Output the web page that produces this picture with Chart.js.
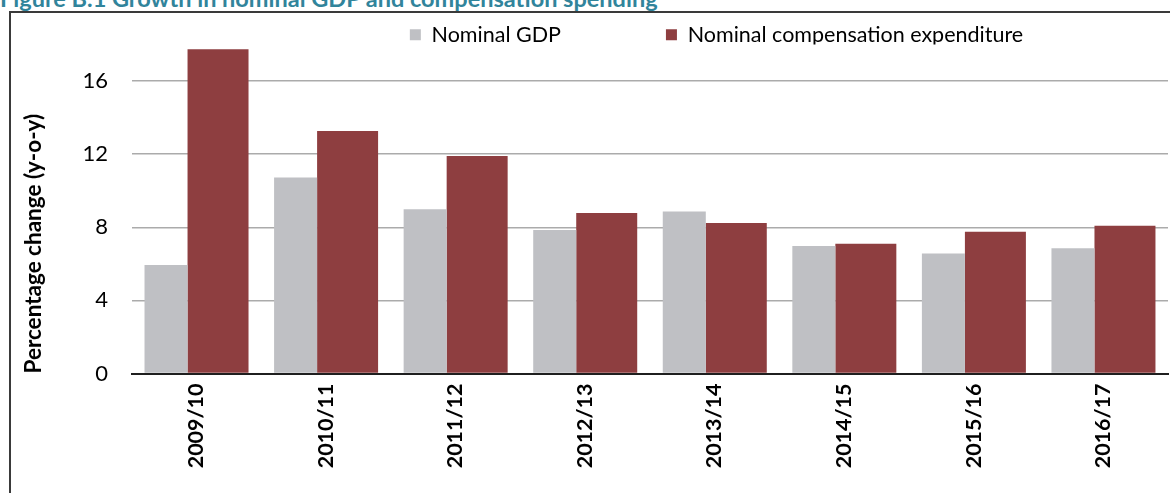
<!DOCTYPE html>
<html>
<head>
<meta charset="utf-8">
<script src="https://cdn.jsdelivr.net/npm/chart.js@4.4.1/dist/chart.umd.min.js"></script>
<style>
  html, body { margin: 0; padding: 0; background: #fff; width: 1170px; height: 493px; overflow: hidden; position: relative; }
  #title { position: absolute; left: 0px; top: -16px; font: bold 23.5px Lato, sans-serif; color: #31849B; white-space: nowrap; }
  #frame { position: absolute; left: 9px; top: 11px; width: 3000px; height: 3000px; border-left: 2px solid #3a3a3a; border-top: 2px solid #3a3a3a; }
  #c { position: absolute; left: 0px; top: -81px; }
</style>
</head>
<body>
<div id="title">Figure B.1 Growth in nominal GDP and compensation spending</div>
<div id="frame"></div>
<canvas id="c" width="1433" height="574"></canvas>
<script>
const categories = ['2009/10', '2010/11', '2011/12', '2012/13', '2013/14', '2014/15', '2015/16', '2016/17'];
const nominalGDP = [5.94, 10.72, 8.98, 7.85, 8.86, 6.98, 6.57, 6.85];
const nominalCompensation = [17.74, 13.27, 11.9, 8.78, 8.23, 7.1, 7.75, 8.09];
const yTickValues = [0, 4, 8, 12, 16];
const seriesNames = ['Nominal GDP', 'Nominal compensation expenditure'];
const yAxisTitle = 'Percentage change (y-o-y)';

const FONT = 'Lato';
new Chart(document.getElementById('c'), {
  type: 'bar',
  data: {
    labels: categories,
    datasets: [
      {
        label: seriesNames[0], data: nominalGDP,
        backgroundColor: '#BFC0C4', borderWidth: 0,
        categoryPercentage: 0.934, barPercentage: 0.711
      },
      {
        label: seriesNames[1], data: nominalCompensation,
        backgroundColor: '#8E3E40', borderWidth: 0,
        categoryPercentage: 0.6715, barPercentage: 1.402
      }
    ]
  },
  options: {
    responsive: false,
    animation: false,
    events: [],
    layout: { padding: 0 },
    plugins: {
      tooltip: { enabled: false },
      title: { display: false },
      legend: {
        display: true,
        position: 'top',
        align: 'center',
        maxHeight: 125.5,
        labels: {
          boxWidth: 11, boxHeight: 11, padding: 105,
          color: '#000',
          font: { family: FONT, size: 21.5 }
        }
      }
    },
    scales: {
      x: {
        offset: true,
        grid: { display: false, drawTicks: false },
        border: { display: true, color: '#1f1f1f', width: 2 },
        ticks: {
          minRotation: 90, maxRotation: 90, padding: 10, autoSkip: false,
          color: '#000', font: { family: FONT, size: 21.5, weight: 'bold' }
        },
        afterFit: (s) => { s.height = 119.5; }
      },
      y: {
        position: 'left',
        min: 0, max: 18,
        bounds: 'data',
        grid: { color: '#ABABAB', lineWidth: 1.5, drawTicks: false },
        border: { display: false },
        ticks: {
          stepSize: 4, includeBounds: false, padding: 23.5,
          color: '#000', font: { family: FONT, size: 22 }
        },
        afterBuildTicks: (s) => { s.ticks = s.ticks.filter(t => yTickValues.includes(t.value)); },
        title: {
          display: true, text: yAxisTitle, color: '#000', align: 'start',
          font: { family: FONT, size: 22.5, weight: 'bold' },
          padding: { top: 20, bottom: 0 }
        },
        afterFit: (s) => { s.width = 131.5; }
      },
      yRight: {
        type: 'linear',
        position: 'right',
        display: true,
        grid: { display: false, drawTicks: false },
        border: { display: false },
        ticks: { display: false },
        afterFit: (s) => { s.width = 265; }
      }
    }
  }
});
</script>
</body>
</html>
